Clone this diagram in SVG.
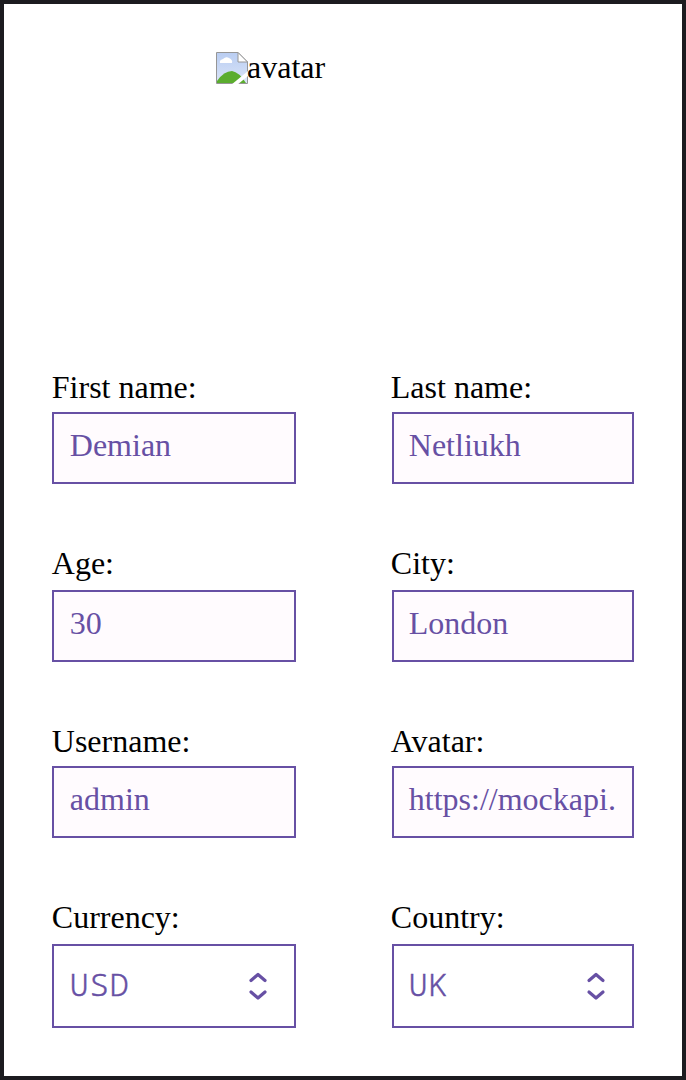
<svg xmlns="http://www.w3.org/2000/svg" width="686" height="1080" viewBox="0 0 686 1080">
<style>
.l{font:32px "Liberation Serif",serif;fill:#000}
.v{font:32px "Liberation Serif",serif;fill:#6750a4}
.m{font:300 32px "Noto Sans Mono","DejaVu Sans Mono",monospace;letter-spacing:.8px;fill:#6750a4;stroke:#6750a4;stroke-width:.45px}
.b{fill:#fffbfe;stroke:#6750a4;stroke-width:2}
.s{fill:#fff;stroke:#6750a4;stroke-width:2}
.c{fill:none;stroke:#6750a4;stroke-width:3.200;stroke-linecap:round;stroke-linejoin:round}
</style>
<defs><linearGradient id="sky" x1="0" y1="0" x2="0" y2="1"><stop offset="0" stop-color="#b9cdf2"/><stop offset="1" stop-color="#dbe5f8"/></linearGradient></defs>
<rect x="0" y="0" width="686" height="1080" fill="#fff"/>
<rect x="2" y="2" width="682" height="1076" fill="none" stroke="#1c1b1f" stroke-width="4"/>
<g id="avatar">
<path d="M216.500 52.500H238L247.500 62V83.500H216.500Z" fill="url(#sky)" stroke="#969696"/>
<path d="M238 52.500V62H247.500Z" fill="#fff" stroke="#969696"/>
<path d="M217 83V81Q224 71 232 71Q239 72 246 83Z" fill="#5bad2e"/>
<path d="M220 63Q219 60 223 59Q226 56 229 58Q233 60 232 63Z" fill="#fff"/>
<path d="M231 85L248 71V76L237 85Z" fill="#fff"/>
<text class="l" x="247" y="78">avatar</text>
</g>
<g id="first-name"><text class="l" x="51.800" y="398">First name:</text><rect class="b" x="53" y="413" width="242" height="70"/><text class="v" x="69.800" y="456">Demian</text></g>
<g id="last-name"><text class="l" x="390.800" y="398">Last name:</text><rect class="b" x="393" y="413" width="240" height="70"/><text class="v" x="408.800" y="456">Netliukh</text></g>
<g id="age"><text class="l" x="51.800" y="574">Age:</text><rect class="b" x="53" y="591" width="242" height="70"/><text class="v" x="69.800" y="634">30</text></g>
<g id="city"><text class="l" x="390.800" y="574">City:</text><rect class="b" x="393" y="591" width="240" height="70"/><text class="v" x="408.800" y="634">London</text></g>
<g id="username"><text class="l" x="51.800" y="752">Username:</text><rect class="b" x="53" y="767" width="242" height="70"/><text class="v" x="69.800" y="810">admin</text></g>
<g id="avatar-url"><text class="l" x="390.800" y="752">Avatar:</text><rect class="b" x="393" y="767" width="240" height="70"/><text class="v" x="408.800" y="810">https://mockapi.</text></g>
<g id="currency"><text class="l" x="51.800" y="928">Currency:</text><rect class="s" x="53" y="945" width="242" height="82"/><text class="m" x="69.500" y="996">USD</text><path class="c" d="M251 980.500L258 974.500L265 980.500M251 992L258 998L265 992"/></g>
<g id="country"><text class="l" x="390.800" y="928">Country:</text><rect class="s" x="393" y="945" width="240" height="82"/><text class="m" x="408.500" y="996">UK</text><path class="c" d="M589 980.500L596 974.500L603 980.500M589 992L596 998L603 992"/></g>
<g id="connectors"></g>
</svg>
